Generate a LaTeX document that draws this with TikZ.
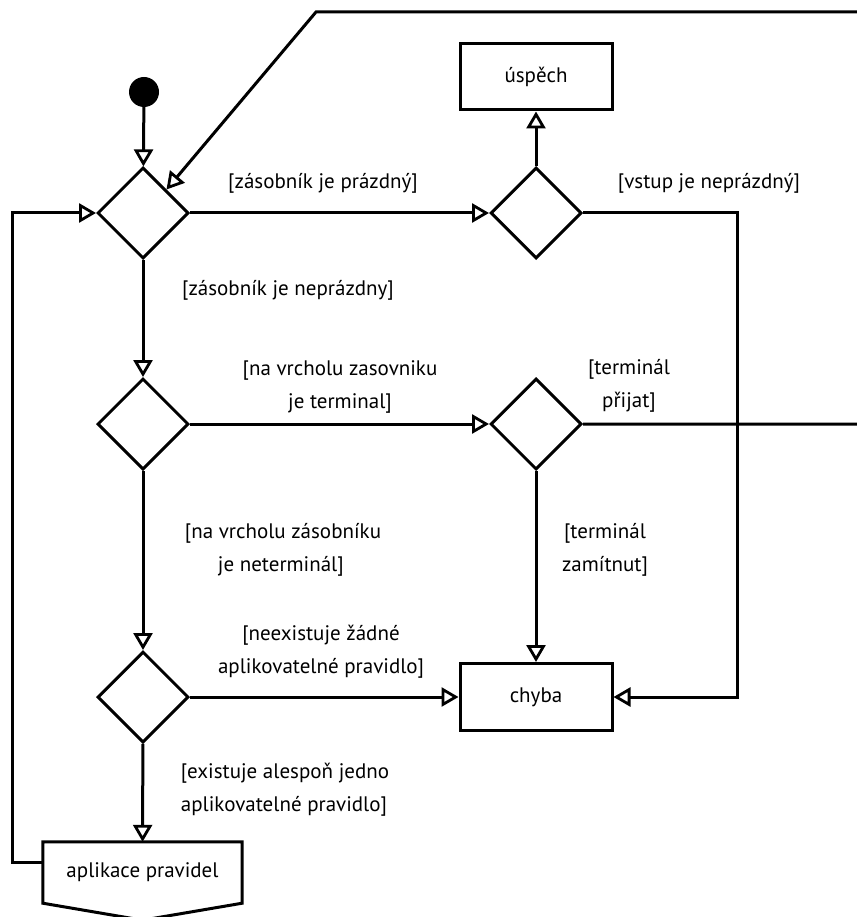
\documentclass[tikz,border=0pt]{standalone}
\usepackage{fontspec}
\setmainfont{PT Sans}
\usetikzlibrary{shapes.geometric,arrows.meta,calc}
\begin{document}
\begin{tikzpicture}[x=1pt,y=-1pt,
  every node/.style={font=\fontsize{21}{33}\selectfont},
  conn/.style={line width=3pt},
  arr/.style={conn,-{Triangle[open,length=17pt,width=19pt,line width=2.8pt]}},
  decision/.style={draw,line width=3pt,diamond,aspect=1,minimum width=91pt,minimum height=91pt,inner sep=0pt},
  actbox/.style={draw,line width=3pt,rectangle,minimum width=152pt,minimum height=66pt,inner sep=0pt},
  guard/.style={align=center,inner sep=0pt}]
\useasboundingbox (0,0) rectangle (856,917);

% start point and decisions
\node[circle,fill=black,minimum size=30pt,inner sep=0pt] (start) at (144,92) {};
\node[decision] (d1) at (143,213) {};
\node[decision] (d2) at (536,213) {};
\node[decision] (d3) at (143,424) {};
\node[decision] (d4) at (536,424) {};
\node[decision] (d5) at (143,697) {};

% actions
\node[actbox] (usp) at (536,77) {úspěch};
\node[actbox,minimum height=67pt] (chyba) at (536,697) {chyba};
\node[minimum width=199pt,minimum height=61pt,inner sep=0pt] (apl) at (142.5,872.5) {aplikace pravidel};
\draw[line width=3pt,line join=miter] (apl.north west) -- (apl.north east) -- (apl.south east)
  -- ($(apl.south)+(0,17)$) -- (apl.south west) -- cycle;

% routing points
\coordinate (rbus) at (737,450);
\coordinate (loopA) at (880,424);
\coordinate (loopB) at (880,12);
\coordinate (loopC) at (316,12);
\coordinate (loopL) at (12,500);

% connectors
\draw[arr] (start) -- (d1);
\draw[arr] (d1) -- (d2);
\draw[arr] (d2) -- (usp);
\draw[arr] (d2.east) -| (rbus) |- (chyba.east);
\draw[arr] (d1) -- (d3);
\draw[arr] (d3) -- (d4);
\draw[arr] (d4) -- (chyba);
\draw[arr] (d4.east) -- (loopA) -- (loopB) -- (loopC) -- (d1.north east);
\draw[arr] (d3) -- (d5);
\draw[arr] (d5) -- (chyba);
\draw[arr] (d5) -- (apl);
\draw[arr] ([yshift=10pt]apl.west) -| (loopL) |- (d1.west);

% guards
\node[guard] (g1) at (323,183) {[zásobník je prázdný]};
\node[guard] (g2) at (709,183) {[vstup je neprázdný]};
\node[guard] (g3) at (288,290) {[zásobník je neprázdny]};
\node[guard] (g4) at (340,387) {[na vrcholu zasovniku\\je terminal]};
\node[guard] (g5) at (629,386) {[terminál\\přijat]};
\node[guard] (g6) at (605,550) {[terminál\\zamítnut]};
\node[guard,align=left] (g7) at (283,550) {[na vrcholu zásobníku\\\hspace*{33pt}je neterminál]};
\node[guard] (g8) at (321,652) {[neexistuje žádné\\aplikovatelné pravidlo]};
\node[guard,align=left] (g9) at (285,790) {[existuje alespoň jedno\\aplikovatelné pravidlo]};
\end{tikzpicture}
\end{document}
